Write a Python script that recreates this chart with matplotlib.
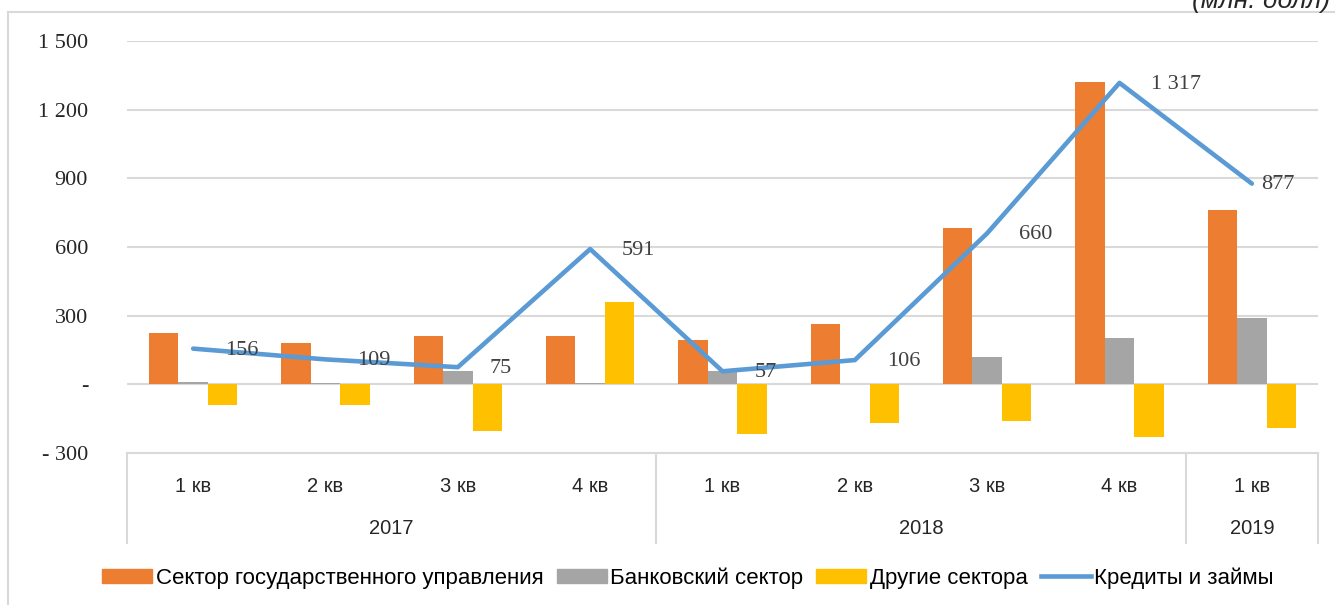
import matplotlib.pyplot as plt
import numpy as np
from matplotlib.lines import Line2D
from matplotlib.patches import Patch

quarters = ["1 кв", "2 кв", "3 кв", "4 кв", "1 кв", "2 кв", "3 кв", "4 кв", "1 кв"]
years = ["2017", "2018", "2019"]
year_sizes = [4, 4, 1]

gov = [223, 179, 210, 210, 192, 262, 681, 1323, 760]
bank = [10, 5, 57, 5, 57, 2, 118, 201, 288]
other = [-92, -92, -205, 358, -218, -170, -162, -231, -192]
loans = [156, 109, 75, 591, 57, 106, 660, 1317, 877]

yticks = [-300, 0, 300, 600, 900, 1200, 1500]

c_gov = "#ED7D31"
c_bank = "#A5A5A5"
c_other = "#FFC000"
c_line = "#5B9BD5"
grid_c = "#D9D9D9"

serif = ["Liberation Serif", "DejaVu Serif"]
sans = ["Liberation Sans Narrow", "Liberation Sans", "DejaVu Sans"]


def fmt(v):
    if v == 0:
        return "-"
    s = "{:,}".format(abs(int(v))).replace(",", " ")
    return "- " + s if v < 0 else s


fig = plt.figure(figsize=(13.35, 6.05), dpi=100)
ax = fig.add_axes([127 / 1335, 1 - 453 / 605, (1318 - 127) / 1335, (453 - 41) / 605])

x = np.arange(len(quarters))
w = 0.223
ax.bar(x - w, gov, w, color=c_gov, zorder=2)
ax.bar(x, bank, w, color=c_bank, zorder=2)
ax.bar(x + w, other, w, color=c_other, zorder=2)
ax.plot(x, loans, color=c_line, lw=3.3, solid_capstyle="round", zorder=3)

# data labels, shifted right of the points
for i, v in enumerate(loans):
    dx = 7 if i == len(loans) - 1 else 23
    ax.annotate(fmt(v), (x[i], v), xytext=(dx, -1), textcoords="offset points",
                ha="left", va="center", fontsize=16, color="#404040",
                family=serif, zorder=4)

ax.set_xlim(-0.5, len(quarters) - 0.5)
ax.set_ylim(-300, 1500)
ax.set_yticks(yticks)
ax.set_yticklabels([fmt(t) for t in yticks], family=serif, fontsize=16, color="#262626")
ax.tick_params(axis="y", length=0, pad=28)
ax.set_xticks([])
for t in yticks[1:]:
    ax.axhline(t, color=grid_c, lw=1.5, zorder=1)
for s in ["top", "right", "left"]:
    ax.spines[s].set_visible(False)
ax.spines["bottom"].set_color(grid_c)
ax.spines["bottom"].set_linewidth(1.5)

# two-level category axis
trans = ax.get_xaxis_transform()
sep_bottom = -(543 - 453) / (453 - 41)
edges = np.concatenate([[0], np.cumsum(year_sizes)]) - 0.5
for e in edges:
    ax.plot([e, e], [0, sep_bottom], transform=trans, color=grid_c, lw=1.5, clip_on=False)
q_y = -(486 - 453) / (453 - 41)
y_y = -(528 - 453) / (453 - 41)
for i, q in enumerate(quarters):
    ax.text(x[i], q_y, q, transform=trans, ha="center", va="center",
            fontsize=14.5, family=sans, color="#262626")
for j, yr in enumerate(years):
    ax.text((edges[j] + edges[j + 1]) / 2, y_y, yr, transform=trans, ha="center",
            va="center", fontsize=14.5, family=sans, color="#262626")

# chart border and unit note
fig.add_artist(Line2D([8 / 1335, 8 / 1335], [0, 1 - 12 / 605], color=grid_c, lw=1.5))
fig.add_artist(Line2D([8 / 1335, 1], [1 - 12 / 605, 1 - 12 / 605], color=grid_c, lw=1.5))
fig.text(1330 / 1335, 1 - 1 / 605, "(млн. долл)", ha="right", va="center",
         fontsize=19, style="italic", family=sans, color="#262626")

handles = [Patch(color=c_gov), Patch(color=c_bank), Patch(color=c_other),
           Line2D([], [], color=c_line, lw=3.3)]
labels = ["Сектор государственного управления", "Банковский сектор",
          "Другие сектора", "Кредиты и займы"]
fig.legend(handles, labels, loc="center", bbox_to_anchor=(688 / 1335, 1 - 578 / 605),
           ncol=4, frameon=False, handlelength=2.25, handleheight=0.55,
           handletextpad=0.15, columnspacing=0.6,
           prop={"family": sans, "size": 16})

fig.savefig("out.png", dpi=100)
